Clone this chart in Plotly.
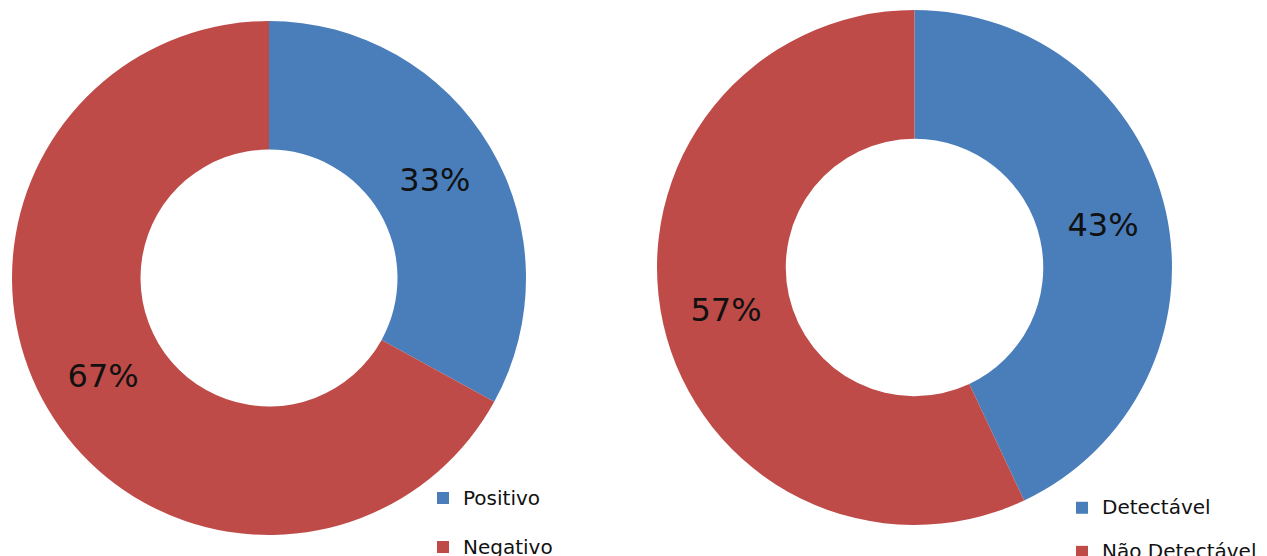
import plotly.graph_objects as go

labels_left = ["Positivo", "Negativo"]
values_left = [33, 67]
labels_right = ["Detectável", "Não Detectável"]
values_right = [43, 57]
colors = ["#4A7EBB", "#BE4B48"]

W, H = 1267, 556


def legend_label(txt):
    # bigger legend row spacing: label on first line, blank second line
    return "<span style='font-size:20px'>" + txt + "</span><br> "


fig = go.Figure()
fig.add_trace(go.Pie(
    labels=[legend_label(t) for t in labels_left], values=values_left,
    hole=0.5, sort=False, direction="clockwise", rotation=0,
    marker=dict(colors=colors, line=dict(width=0)),
    texttemplate="%{percent:.0%}", textposition="inside",
    insidetextorientation="horizontal",
    textfont=dict(family="DejaVu Sans", size=32, color="#111111"),
    domain=dict(x=[4 / W, 518 / W], y=[1 - 527 / H, 1 - 13 / H]),
    legend="legend",
))
fig.add_trace(go.Pie(
    labels=[legend_label(t) for t in labels_right], values=values_right,
    hole=0.5, sort=False, direction="clockwise", rotation=0,
    marker=dict(colors=colors, line=dict(width=0)),
    texttemplate="%{percent:.0%}", textposition="inside",
    insidetextorientation="horizontal",
    textfont=dict(family="DejaVu Sans", size=32, color="#111111"),
    domain=dict(x=[648 / W, 1165 / W], y=[1 - 517 / H, 1 - 2 / H]),
    legend="legend2",
))

fig.update_layout(
    width=W, height=H,
    margin=dict(l=0, r=0, t=0, b=0, autoexpand=False),
    paper_bgcolor="white", plot_bgcolor="white",
    legend=dict(x=415 / W, y=1 - 472 / H, xanchor="left", yanchor="top",
                valign="top",
                font=dict(family="DejaVu Sans", size=17.7, color="#111111"),
                bgcolor="rgba(0,0,0,0)"),
    legend2=dict(x=1054 / W, y=1 - 483 / H, xanchor="left", yanchor="top",
                 valign="top",
                 font=dict(family="DejaVu Sans", size=15.8, color="#111111"),
                 bgcolor="rgba(0,0,0,0)"),
)

fig.write_html("out.html")
